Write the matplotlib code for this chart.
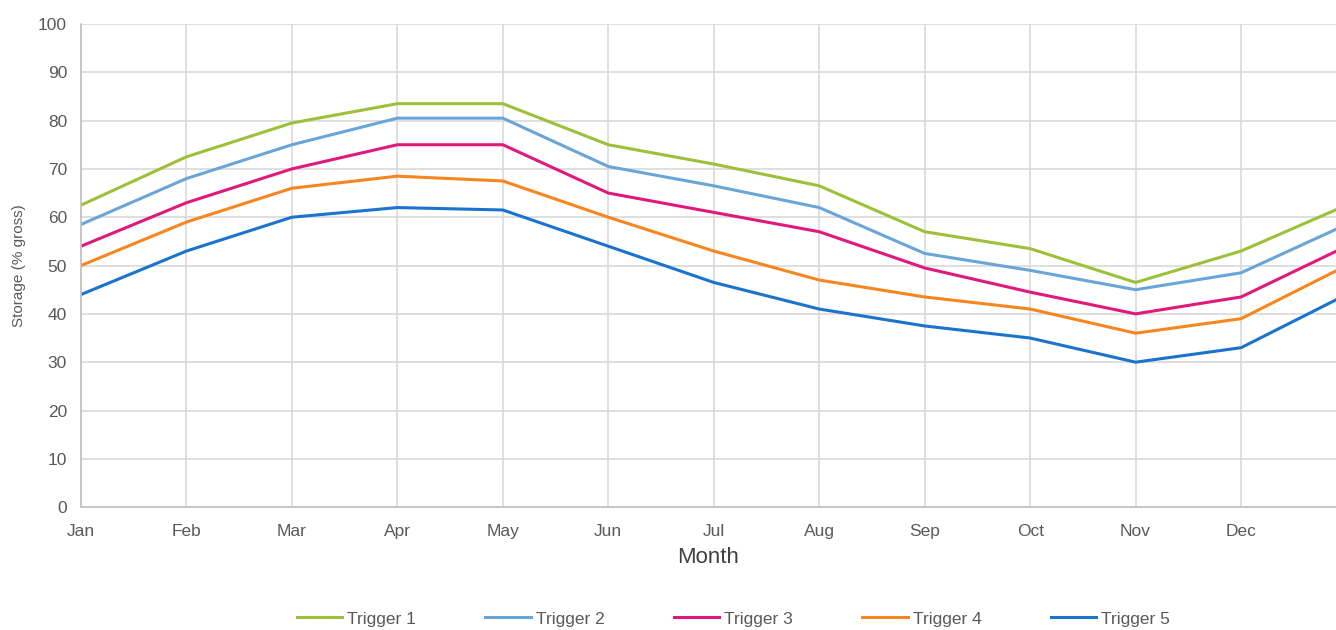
import matplotlib.pyplot as plt
import numpy as np

plt.rcParams['font.family'] = ['Liberation Sans', 'DejaVu Sans']

months = ['Jan', 'Feb', 'Mar', 'Apr', 'May', 'Jun', 'Jul', 'Aug', 'Sep', 'Oct', 'Nov', 'Dec', 'Jan']
# last point is January of the following year (cut off by the axis limit)
trigger1 = [62.5, 72.5, 79.5, 83.5, 83.5, 75.0, 71.0, 66.5, 57.0, 53.5, 46.5, 53.0, 62.5]
trigger2 = [58.5, 68.0, 75.0, 80.5, 80.5, 70.5, 66.5, 62.0, 52.5, 49.0, 45.0, 48.5, 58.5]
trigger3 = [54.0, 63.0, 70.0, 75.0, 75.0, 65.0, 61.0, 57.0, 49.5, 44.5, 40.0, 43.5, 54.0]
trigger4 = [50.0, 59.0, 66.0, 68.5, 67.5, 60.0, 53.0, 47.0, 43.5, 41.0, 36.0, 39.0, 50.0]
trigger5 = [44.0, 53.0, 60.0, 62.0, 61.5, 54.0, 46.5, 41.0, 37.5, 35.0, 30.0, 33.0, 44.0]

names = ['Trigger 1', 'Trigger 2', 'Trigger 3', 'Trigger 4', 'Trigger 5']
colors = ['#9dc03a', '#6aa5d8', '#e0197d', '#f7861f', '#1a73cc']

fig = plt.figure(figsize=(13.36, 6.30), dpi=100)
ax = fig.add_axes([0.0606, 0.195, 0.9394, 0.767])

x = np.arange(len(months))
for vals, name, c in zip([trigger1, trigger2, trigger3, trigger4, trigger5], names, colors):
    ax.plot(x, vals, color=c, lw=2.2, label=name, solid_joinstyle='round')

ax.set_xlim(0, 11.9)
ax.set_ylim(0, 100)
ax.set_xticks(x[:12])
ax.set_xticklabels(months[:12])
ax.set_yticks(np.arange(0, 101, 10))
ax.grid(True, color='#d9d9d9', lw=1.2)
ax.set_axisbelow(True)
for s in ['top', 'right']:
    ax.spines[s].set_visible(False)
for s in ['left', 'bottom']:
    ax.spines[s].set_color('#bfbfbf')
    ax.spines[s].set_linewidth(1.2)
ax.tick_params(length=0, labelsize=12.5, colors='#595959', pad=12)
ax.tick_params(axis='y', pad=10)

ax.set_xlabel('Month', fontsize=16, color='#404040', labelpad=6)
ax.set_ylabel('Storage (% gross)', fontsize=11, color='#595959', labelpad=9)

fig.legend(loc='center', bbox_to_anchor=(0.549, 0.0175), ncol=5, frameon=False,
           fontsize=12.5, handlelength=2.6, handletextpad=0.3, columnspacing=4.0,
           labelcolor='#595959')

fig.savefig('out.png', dpi=100)
